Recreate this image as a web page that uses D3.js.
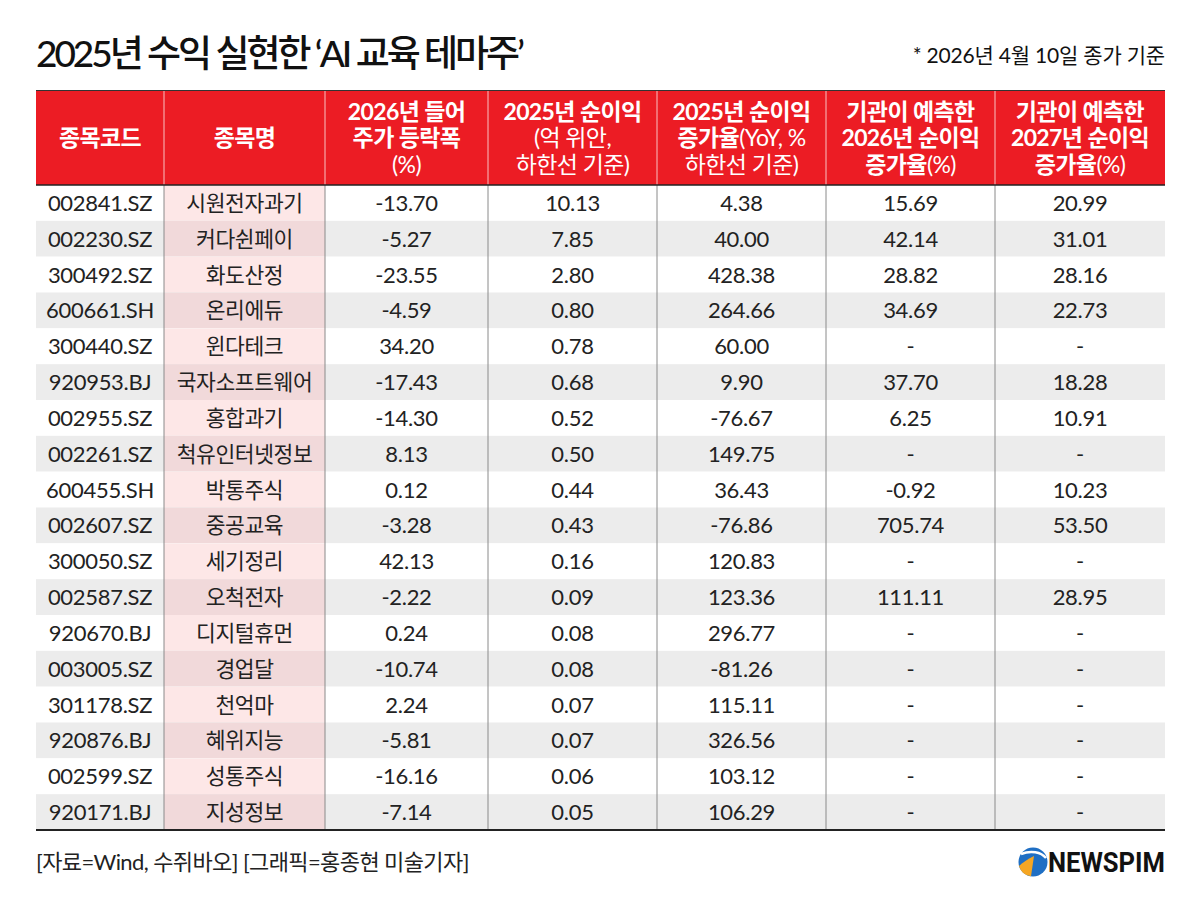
<!DOCTYPE html>
<html>
<head>
<meta charset="utf-8">
<script src="https://cdn.jsdelivr.net/npm/d3@7"></script>
<style>
	body { margin: 0; background: #fff; }
	svg { display: block; }
</style>
</head>
<body>
<div id="chart"></div>
<script>
var codes = ["002841.SZ", "002230.SZ", "300492.SZ", "600661.SH", "300440.SZ", "920953.BJ",
	"002955.SZ", "002261.SZ", "600455.SH", "002607.SZ", "300050.SZ", "002587.SZ",
	"920670.BJ", "003005.SZ", "301178.SZ", "920876.BJ", "002599.SZ", "920171.BJ"];
var names = ["시원전자과기", "커다쉰페이", "화도산정", "온리에듀", "윈다테크", "국자소프트웨어",
	"홍합과기", "척유인터넷정보", "박통주식", "중공교육", "세기정리", "오척전자",
	"디지털휴먼", "경업달", "천억마", "혜위지능", "성통주식", "지성정보"];
var priceChange = [-13.70, -5.27, -23.55, -4.59, 34.20, -17.43, -14.30, 8.13, 0.12,
	-3.28, 42.13, -2.22, 0.24, -10.74, 2.24, -5.81, -16.16, -7.14];
var profit2025 = [10.13, 7.85, 2.80, 0.80, 0.78, 0.68, 0.52, 0.50, 0.44,
	0.43, 0.16, 0.09, 0.08, 0.08, 0.07, 0.07, 0.06, 0.05];
var growth2025 = [4.38, 40.00, 428.38, 264.66, 60.00, 9.90, -76.67, 149.75, 36.43,
	-76.86, 120.83, 123.36, 296.77, -81.26, 115.11, 326.56, 103.12, 106.29];
var growth2026 = [15.69, 42.14, 28.82, 34.69, null, 37.70, 6.25, null, -0.92,
	705.74, null, 111.11, null, null, null, null, null, null];
var growth2027 = [20.99, 31.01, 28.16, 22.73, null, 18.28, 10.91, null, 10.23,
	53.50, null, 28.95, null, null, null, null, null, null];

// header lines per column: [text, bold]
var headers = [
	[[["종목코드", 1]]],
	[[["종목명", 1]]],
	[[["2026년 들어", 1]], [["주가 등락폭", 1]], [["(%)", 0]]],
	[[["2025년 순이익", 1]], [["(억 위안,", 0]], [["하한선 기준)", 0]]],
	[[["2025년 순이익", 1]], [["증가율", 1], ["(YoY, %", 0]], [["하한선 기준)", 0]]],
	[[["기관이 예측한", 1]], [["2026년 순이익", 1]], [["증가율", 1], ["(%)", 0]]],
	[[["기관이 예측한", 1]], [["2027년 순이익", 1]], [["증가율", 1], ["(%)", 0]]]
];

var title = "2025년 수익 실현한 ‘AI 교육 테마주’";
var note = "* 2026년 4월 10일 종가 기준";
var source = "[자료=Wind, 수쥐바오] [그래픽=홍종현 미술기자]";

var width = 1200, height = 909;
var font = "Lato, 'Noto Sans CJK KR', sans-serif";
var red = "#ec1c24";

// column edges of the table
var colEdges = [36, 164, 325, 488, 657, 826, 995, 1165];
var headTop = 90, headBottom = 185, tableBottom = 830;

var fmt = d3.formatLocale({ decimal: ".", thousands: ",", grouping: [3], currency: ["", ""], minus: "-" }).format(".2f");
function cell(v) { return v == null ? "-" : fmt(v); }

var rows = codes.map(function(c, i) {
	return [c, names[i], cell(priceChange[i]), cell(profit2025[i]), cell(growth2025[i]), cell(growth2026[i]), cell(growth2027[i])];
});

var svg = d3.select("#chart").append("svg")
	.attr("width", width)
	.attr("height", height);

var y = d3.scaleBand()
	.domain(d3.range(rows.length))
	.range([headBottom, tableBottom]);

function colMid(j) { return (colEdges[j] + colEdges[j + 1]) / 2; }

// title + note
svg.append("text")
	.attr("x", 36)
	.attr("y", 67)
	.attr("font-family", font)
	.attr("font-size", 37)
	.attr("font-weight", 500)
	.attr("textLength", 489)
	.attr("lengthAdjust", "spacing")
	.attr("fill", "#111")
	.text(title);

svg.append("text")
	.attr("x", colEdges[7])
	.attr("y", 63)
	.attr("text-anchor", "end")
	.attr("font-family", font)
	.attr("font-size", 21)
	.attr("letter-spacing", -0.2)
	.attr("fill", "#111")
	.text(note);

// header
var gHead = svg.append("g").attr("class", "head");
gHead.append("rect")
	.attr("x", colEdges[0])
	.attr("y", headTop)
	.attr("width", colEdges[7] - colEdges[0])
	.attr("height", headBottom - headTop)
	.attr("fill", red);

gHead.selectAll("line.sep")
	.data(colEdges.slice(1, -1))
	.enter().append("line")
	.attr("class", "sep")
	.attr("x1", function(d) { return d; })
	.attr("x2", function(d) { return d; })
	.attr("y1", headTop)
	.attr("y2", headBottom)
	.attr("stroke", "#f9c0c2")
	.attr("stroke-width", 1);

headers.forEach(function(lines, j) {
	var lh = 26.5;
	var mid = (headTop + headBottom) / 2;
	var t = gHead.append("text")
		.attr("text-anchor", "middle")
		.attr("font-family", font)
		.attr("font-size", 23)
		.attr("letter-spacing", -0.6)
		.attr("fill", "#fff");
	lines.forEach(function(parts, k) {
		var ly = mid + (k - (lines.length - 1) / 2) * lh + 8.5;
		parts.forEach(function(p, m) {
			var ts = t.append("tspan")
				.attr("font-weight", p[1] ? 700 : 400)
				.text(p[0]);
			if (m == 0) ts.attr("x", colMid(j)).attr("y", ly);
		});
	});
});

// body rows
var gBody = svg.append("g").attr("class", "body");
var gRow = gBody.selectAll("g.row")
	.data(rows)
	.enter().append("g")
	.attr("class", "row")
	.attr("transform", function(d, i) { return "translate(0," + y(i) + ")"; });

gRow.append("rect")
	.attr("x", colEdges[0])
	.attr("width", colEdges[7] - colEdges[0])
	.attr("height", y.bandwidth())
	.attr("fill", function(d, i) { return i % 2 ? "#ececec" : "#fff"; });

gRow.append("rect")
	.attr("x", colEdges[1])
	.attr("width", colEdges[2] - colEdges[1])
	.attr("height", y.bandwidth())
	.attr("fill", function(d, i) { return i % 2 ? "#f1d9da" : "#fde7e7"; });

gRow.selectAll("text")
	.data(function(d) { return d; })
	.enter().append("text")
	.attr("x", function(d, j) { return colMid(j); })
	.attr("y", y.bandwidth() / 2 + 8)
	.attr("text-anchor", "middle")
	.attr("font-family", font)
	.attr("font-size", function(d, j) { return j == 1 ? 21.5 : 22; })
	.attr("letter-spacing", function(d, j) { return j == 1 ? -0.4 : -0.3; })
	.attr("fill", "#222")
	.text(function(d) { return d; });

// grid lines
gBody.selectAll("line.v")
	.data(colEdges.slice(1, -1))
	.enter().append("line")
	.attr("class", "v")
	.attr("x1", function(d) { return d; })
	.attr("x2", function(d) { return d; })
	.attr("y1", headBottom)
	.attr("y2", tableBottom)
	.attr("stroke", "#8a8a8a")
	.attr("stroke-width", 1);

svg.append("line")
	.attr("x1", colEdges[0]).attr("x2", colEdges[7])
	.attr("y1", headTop + 0.5).attr("y2", headTop + 0.5)
	.attr("stroke", "#333").attr("stroke-width", 1);
svg.append("line")
	.attr("x1", colEdges[0]).attr("x2", colEdges[7])
	.attr("y1", headBottom).attr("y2", headBottom)
	.attr("stroke", "#222").attr("stroke-width", 1.5);
svg.append("line")
	.attr("x1", colEdges[0]).attr("x2", colEdges[7])
	.attr("y1", tableBottom).attr("y2", tableBottom)
	.attr("stroke", "#222").attr("stroke-width", 2);

// footer
svg.append("text")
	.attr("x", 36)
	.attr("y", 870)
	.attr("font-family", font)
	.attr("font-size", 22)
	.attr("letter-spacing", -0.6)
	.attr("fill", "#222")
	.text(source);

// NEWSPIM logo
var gLogo = svg.append("g").attr("transform", "translate(1033,862)");
gLogo.append("circle").attr("r", 14.5).attr("fill", "#1f6fc4");
gLogo.append("path")
	.attr("d", "M-14,4 A14.5,14.5 0 0,0 -2,14.3 L1,-6 C-5,-3 -10,0 -14,4 Z")
	.attr("fill", "#f5a623");
gLogo.append("path")
	.attr("d", "M-12,-8 C-2,-12 8,-10 13,-4")
	.attr("fill", "none")
	.attr("stroke", "#fff")
	.attr("stroke-width", 2.5);
svg.append("text")
	.attr("x", 1165)
	.attr("y", 872)
	.attr("text-anchor", "end")
	.attr("font-family", "Roboto, 'DejaVu Sans', sans-serif")
	.attr("font-size", 27)
	.attr("font-weight", 700)
	.attr("textLength", 117)
	.attr("lengthAdjust", "spacingAndGlyphs")
	.attr("fill", "#111")
	.text("NEWSPIM");
</script>
</body>
</html>
